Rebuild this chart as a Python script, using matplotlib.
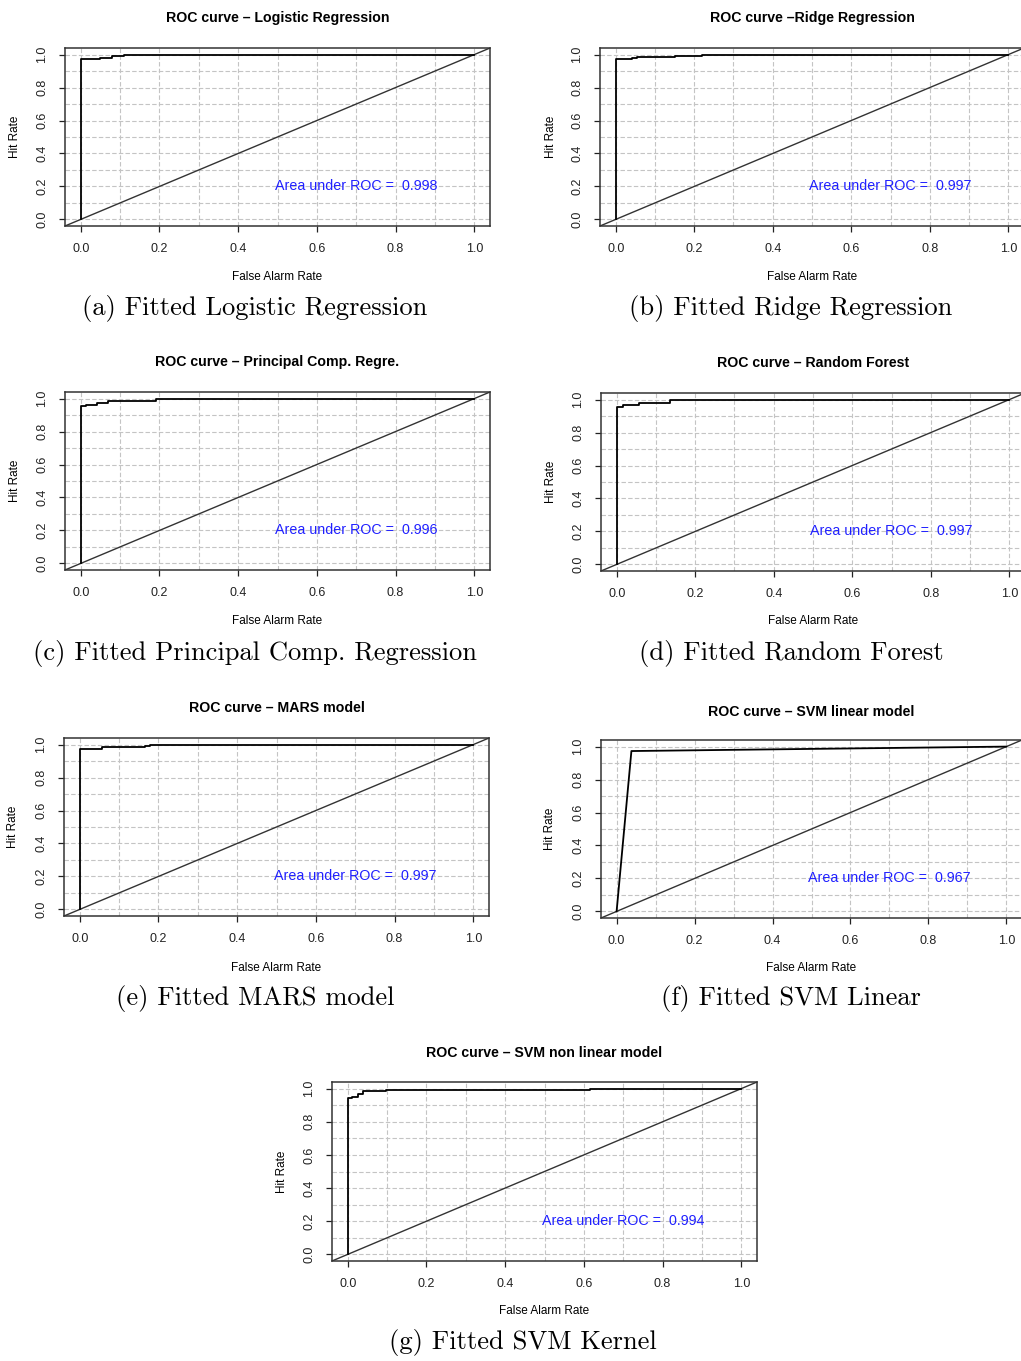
import matplotlib.pyplot as plt
import numpy as np

W, H = 1021, 1361

# ROC curves (false alarm rate, hit rate)
fpr_logit = [0, 0, 0.05, 0.05, 0.08, 0.08, 0.11, 0.11, 1.0]
tpr_logit = [0, 0.972, 0.972, 0.978, 0.978, 0.99, 0.99, 1.0, 1.0]

fpr_ridge = [0, 0, 0.042, 0.042, 0.055, 0.055, 0.151, 0.151, 0.221, 0.221, 1.0]
tpr_ridge = [0, 0.972, 0.972, 0.978, 0.978, 0.984, 0.984, 0.99, 0.99, 1.0, 1.0]

fpr_pcr = [0, 0, 0.013, 0.013, 0.041, 0.041, 0.068, 0.068, 0.19, 0.19, 1.0]
tpr_pcr = [0, 0.953, 0.953, 0.96, 0.96, 0.974, 0.974, 0.984, 0.984, 1.0, 1.0]

fpr_rf = [0, 0, 0.015, 0.015, 0.058, 0.058, 0.136, 0.136, 1.0]
tpr_rf = [0, 0.954, 0.954, 0.97, 0.97, 0.982, 0.982, 1.0, 1.0]

fpr_mars = [0, 0, 0.056, 0.056, 0.166, 0.166, 0.179, 0.179, 1.0]
tpr_mars = [0, 0.972, 0.972, 0.984, 0.984, 0.992, 0.992, 1.0, 1.0]

fpr_svml = [0, 0.038, 1.0]
tpr_svml = [0, 0.973, 1.0]

fpr_svmk = [0, 0, 0.012, 0.012, 0.026, 0.026, 0.04, 0.04, 0.098, 0.098, 0.616, 0.616, 1.0]
tpr_svmk = [0, 0.941, 0.941, 0.95, 0.95, 0.97, 0.97, 0.984, 0.984, 0.992, 0.992, 1.0, 1.0]

titles = [
    "ROC curve \u2013 Logistic Regression",
    "ROC curve \u2013Ridge Regression",
    "ROC curve \u2013 Principal Comp. Regre.",
    "ROC curve \u2013 Random Forest",
    "ROC curve \u2013 MARS model",
    "ROC curve \u2013 SVM linear model",
    "ROC curve \u2013 SVM non linear model",
]
captions = [
    "(a) Fitted Logistic Regression",
    "(b) Fitted Ridge Regression",
    "(c) Fitted Principal Comp. Regression",
    "(d) Fitted Random Forest",
    "(e) Fitted MARS model",
    "(f) Fitted SVM Linear",
    "(g) Fitted SVM Kernel",
]
auc = [0.998, 0.997, 0.996, 0.997, 0.997, 0.967, 0.994]
curves = [
    (fpr_logit, tpr_logit),
    (fpr_ridge, tpr_ridge),
    (fpr_pcr, tpr_pcr),
    (fpr_rf, tpr_rf),
    (fpr_mars, tpr_mars),
    (fpr_svml, tpr_svml),
    (fpr_svmk, tpr_svmk),
]

# panel boxes in pixels: left, top, right, bottom
boxes = [
    (65, 48, 490, 226),
    (600, 48, 1024, 226),
    (65, 392, 490, 570),
    (601, 393, 1025, 571),
    (64, 738, 489, 916),
    (601, 740, 1022, 918),
    (332, 1082, 757, 1261),
]
# text positions in pixels
title_y = [18, 18, 362, 363, 708, 712, 1053]
xlab_y = [277, 277, 621, 621, 968, 968, 1311]
ylab_x = [15, 551, 15, 551, 13, 550, 282]
cap_y = [308, 308, 654, 654, 999, 999, 1343]
cap_x = [255, 791, 255, 791, 255, 791, 523]

plt.rcParams["font.family"] = ["Liberation Sans", "DejaVu Sans"]

fig = plt.figure(figsize=(W / 100, H / 100), dpi=100)

for i in range(7):
    l, t, r, b = boxes[i]
    ax = fig.add_axes([l / W, 1 - b / H, (r - l) / W, (b - t) / H])
    ax.set_xlim(-0.04, 1.04)
    ax.set_ylim(-0.04, 1.04)
    grid = np.linspace(0, 1, 11)
    for g in grid:
        ax.axvline(g, color="#c4c4c4", lw=0.8, dashes=(4, 2), zorder=1)
        ax.axhline(g, color="#c4c4c4", lw=0.8, dashes=(4, 2), zorder=1)
    ax.axline((0, 0), (1, 1), color="#333333", lw=1.0, zorder=2)
    ax.plot(curves[i][0], curves[i][1], color="black", lw=1.3, zorder=3)
    ax.text(0.7, 0.2, f"Area under ROC =  {auc[i]}", color="#2020ff",
            fontsize=10.3, ha="center", va="center", zorder=4)
    ticks = np.linspace(0, 1, 6)
    ax.set_xticks(ticks)
    ax.set_yticks(ticks)
    ax.set_xticklabels([f"{v:.1f}" for v in ticks])
    ax.set_yticklabels([f"{v:.1f}" for v in ticks], rotation=90, va="center")
    ax.tick_params(direction="out", length=4, width=0.9, labelsize=9,
                   colors="#222222", pad=8)
    for s in ax.spines.values():
        s.set_linewidth(1.1)
        s.set_color("#333333")

    cx = (l + r) / 2
    fig.text(cx / W, 1 - title_y[i] / H, titles[i], ha="center", va="center",
             fontsize=10.2, fontweight="bold")
    fig.text(cx / W, 1 - xlab_y[i] / H, "False Alarm Rate", ha="center",
             va="center", fontsize=8.5)
    fig.text(ylab_x[i] / W, 1 - (t + b) / 2 / H, "Hit Rate", ha="center",
             va="center", rotation=90, fontsize=8.5)
    fig.text(cap_x[i] / W, 1 - cap_y[i] / H, captions[i], ha="center",
             va="center", fontsize=19.1, family="cmr10")

plt.savefig("out.png", dpi=100)
